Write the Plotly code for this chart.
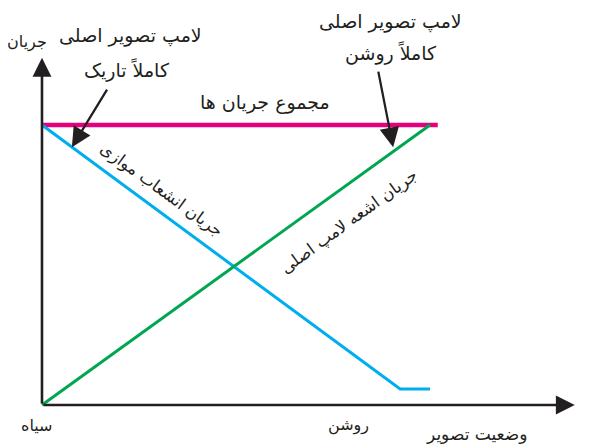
import plotly.graph_objects as go

# وضعیت تصویر: 0 = سیاه , 1 = روشن
brightness_total = [0, 1.02]
total_current = [1.0, 1.0]

brightness_parallel = [0, 0.923, 1.0]
parallel_current = [1.0, 0.057, 0.057]

brightness_tube = [0, 1.0]
tube_current = [0, 1.0]

tick_vals = [-0.013, 0.789]
tick_text = ['سیاه', 'روشن']

FONT = 'DejaVu Sans'
INK = '#231F20'

fig = go.Figure()

fig.add_trace(go.Scatter(x=brightness_total, y=total_current, mode='lines',
                         line=dict(color='#E5007D', width=4.5)))
fig.add_trace(go.Scatter(x=brightness_parallel, y=parallel_current, mode='lines',
                         line=dict(color='#00AEEF', width=3)))
fig.add_trace(go.Scatter(x=brightness_tube, y=tube_current, mode='lines',
                         line=dict(color='#00A651', width=3)))

# محورها با فلش
axis_arrow = dict(xref='x', yref='y', axref='x', ayref='y', text='', showarrow=True,
                  arrowhead=2, arrowsize=1.45, arrowwidth=2.6, arrowcolor=INK)
fig.add_annotation(x=0, y=1.24, ax=0, ay=0, **axis_arrow)
fig.add_annotation(x=1.373, y=0, ax=0, ay=0, **axis_arrow)

# فلش های توضیح
callout = dict(xref='x', yref='y', axref='x', ayref='y', text='', showarrow=True,
               arrowhead=2, arrowsize=1.7, arrowwidth=2.3, arrowcolor=INK)
fig.add_annotation(x=0.077, y=0.921, ax=0.170, ay=1.132, **callout)
fig.add_annotation(x=0.905, y=0.921, ax=0.866, ay=1.196, **callout)


def label(x, y, text, size=19, angle=0):
    fig.add_annotation(x=x, y=y, xref='x', yref='y', text=text, showarrow=False,
                       textangle=angle, font=dict(family=FONT, size=size, color=INK))


label(-0.038, 1.296, 'جریان', size=16)
label(0.227, 1.318, 'لامپ تصویر اصلی')
label(0.219, 1.196, 'کاملاً تاریک')
label(0.899, 1.371, 'لامپ تصویر اصلی')
label(0.899, 1.257, 'کاملاً روشن')
label(0.575, 1.079, 'مجموع جریان ها')
label(0.307, 0.768, 'جریان انشعاب موازی', size=16.5, angle=36)
label(0.791, 0.654, 'جریان اشعه لامپ اصلی', size=16.5, angle=-36)
label(1.119, -0.104, 'وضعیت تصویر', size=17)

# برچسب های محور افقی
for v, t in zip(tick_vals, tick_text):
    label(v, -0.073, t, size=16)

fig.update_layout(
    width=598, height=446,
    margin=dict(l=0, r=0, t=0, b=0),
    paper_bgcolor='white', plot_bgcolor='white',
    showlegend=False,
    xaxis=dict(range=[-0.0876, 1.4536], visible=False, fixedrange=True),
    yaxis=dict(range=[-0.175, 1.4179], visible=False, fixedrange=True),
)

fig.write_html("out.html")
